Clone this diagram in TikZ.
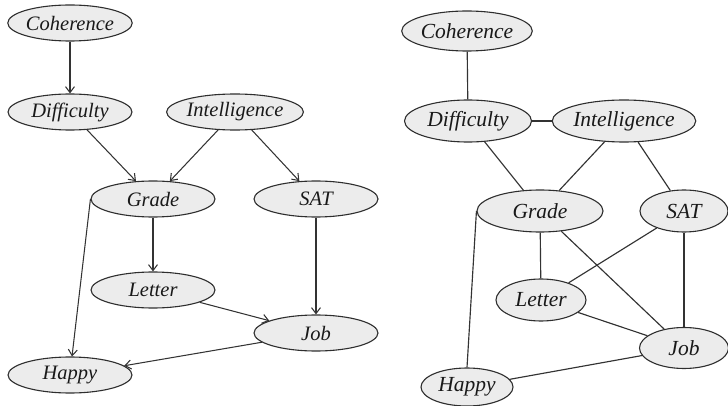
\documentclass[tikz,border=0pt]{standalone}
\usepackage{fontspec}
\setmainfont{Liberation Serif}
\usetikzlibrary{arrows.meta,shapes.geometric}
\definecolor{nodefill}{HTML}{ECECEC}
\definecolor{nodeline}{HTML}{2E2E2E}
\definecolor{edgeline}{HTML}{333333}
\tikzset{
  var/.style={ellipse, draw=nodeline, fill=nodefill, line width=1.1pt, inner sep=0pt,
    font=\fontsize{20.5}{22}\selectfont\itshape, text=black!90},
  lvar/.style={var, minimum width=124pt, minimum height=36pt},
  rvar/.style={var, font=\fontsize{21.5}{23}\selectfont\itshape, minimum height=42pt},
  wide/.style={minimum width=127pt},
  narrow/.style={minimum width=90pt},
  arc/.style={draw=edgeline, line width=1.05pt, -{Straight Barb[length=6pt,width=9pt,line width=1.05pt]}},
  link/.style={draw=edgeline, line width=1.15pt}
}
\begin{document}
\begin{tikzpicture}[x=1pt,y=-1pt]
\useasboundingbox (0,0) rectangle (728,406);
% left: directed graph
\node[lvar] (lC) at (70,23) {Coherence};
\node[lvar] (lD) at (70,112) {Difficulty};
\node[lvar] (lI) at (235,112) {Intelligence};
\node[lvar] (lG) at (153,199) {Grade};
\node[lvar] (lS) at (316,199) {SAT};
\node[lvar] (lL) at (153,290) {Letter};
\node[lvar] (lJ) at (316,333) {Job};
\node[lvar] (lH) at (70,375) {Happy};
\draw[arc] (lC) -- (lD);
\draw[arc] (lD) -- (lG);
\draw[arc] (lI) -- (lG);
\draw[arc] (lI) -- (lS);
\draw[arc] (lG) -- (lL);
\draw[arc] (lS) -- (lJ);
\draw[arc] (lL) -- (lJ);
\draw[arc] (lJ) -- (lH);
\draw[arc] (lG.west) -- ([xshift=2pt]lH.north);
% right: moralized graph
\node[rvar, minimum width=129pt, minimum height=40pt] (rC) at (467,31) {Coherence};
\node[rvar, wide] (rD) at (468,121) {Difficulty};
\node[rvar, minimum width=128pt] (rI) at (624,121) {Intelligence};
\node[rvar, minimum width=126pt] (rG) at (540,211) {Grade};
\node[rvar, narrow, minimum width=88pt] (rS) at (684,211) {SAT};
\node[rvar, narrow] (rL) at (541,300) {Letter};
\node[rvar, narrow, minimum width=89pt, minimum height=41pt] (rJ) at (684,348) {Job};
\node[rvar, narrow, minimum width=92pt, minimum height=38pt] (rH) at (467,387) {Happy};
\draw[link] (rC) -- (rD);
\draw[link] (rD) -- (rI);
\draw[link] (rD) -- (rG);
\draw[link] (rI) -- (rG);
\draw[link] (rI) -- (rS);
\draw[link] (rG) -- (rL);
\draw[link] (rG) -- (rJ);
\draw[link] (rS) -- (rL);
\draw[link] (rS) -- (rJ);
\draw[link] (rL) -- (rJ);
\draw[link] (rJ) -- (rH);
\draw[link] (rG.west) -- (rH.north);
\end{tikzpicture}
\end{document}
